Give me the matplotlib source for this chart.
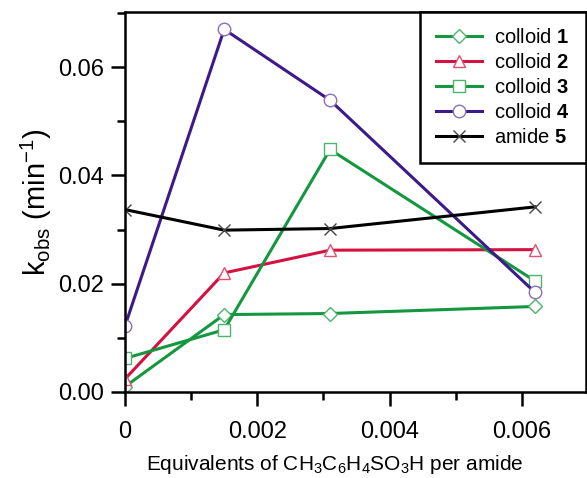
import matplotlib
matplotlib.use("Agg")
import matplotlib.pyplot as plt
from matplotlib.ticker import MultipleLocator

plt.rcParams['font.family'] = ['Liberation Sans', 'DejaVu Sans']
plt.rcParams['mathtext.fontset'] = 'custom'
plt.rcParams['mathtext.rm'] = 'Liberation Sans'
plt.rcParams['mathtext.it'] = 'Liberation Sans:italic'
plt.rcParams['mathtext.bf'] = 'Liberation Sans:bold'

# данные
equiv = [0, 0.0015, 0.0031, 0.0062]
colloid1 = [0.0010, 0.0143, 0.0145, 0.0158]
colloid2 = [0.0024, 0.0220, 0.0262, 0.0263]
colloid3 = [0.0062, 0.0115, 0.0448, 0.0205]
colloid4 = [0.0122, 0.0670, 0.0539, 0.0184]
amide5 = [0.0337, 0.0299, 0.0302, 0.0342]

labels = ['colloid $\\mathbf{1}$', 'colloid $\\mathbf{2}$', 'colloid $\\mathbf{3}$',
          'colloid $\\mathbf{4}$', 'amide $\\mathbf{5}$']

green = '#14973f'
red = '#d41141'
purple = '#3d1a8a'

fig = plt.figure(figsize=(5.87, 4.78), dpi=100)
ax = fig.add_axes([125/587, 86/478, 461/587, 380/478])

ax.plot(equiv, colloid1, color=green, lw=2.2, marker='D', ms=7, mfc='white', mec='#4fb36f', mew=1, label=labels[0])
ax.plot(equiv, colloid2, color=red, lw=2.2, marker='^', ms=8, mfc='white', mec='#e05070', mew=1, label=labels[1])
ax.plot(equiv, colloid3, color=green, lw=2.2, marker='s', ms=8, mfc='white', mec='#4fb36f', mew=1, label=labels[2])
ax.plot(equiv, colloid4, color=purple, lw=2.2, marker='o', ms=9, mfc='white', mec='#8a70b8', mew=1, label=labels[3])
ax.plot(equiv, amide5, color='black', lw=2.2, marker='x', ms=8, mec='#444444', mew=1, label=labels[4])

ax.set_xlim(0, 0.00697)
ax.set_ylim(0, 0.0702)
ax.set_xticks([0, 0.002, 0.004, 0.006])
ax.set_xticklabels(['0', '0.002', '0.004', '0.006'])
ax.set_yticks([0, 0.02, 0.04, 0.06])
ax.set_yticklabels(['0.00', '0.02', '0.04', '0.06'])
ax.xaxis.set_minor_locator(MultipleLocator(0.001))
ax.yaxis.set_minor_locator(MultipleLocator(0.01))
ax.tick_params(which='major', direction='out', length=10, width=1.8, labelsize=17, pad=5)
ax.tick_params(which='minor', direction='out', length=6, width=1.8)
ax.tick_params(axis='x', pad=11)
for s in ax.spines.values():
    s.set_linewidth(1.8)

ax.set_xlabel('Equivalents of CH$_3$C$_6$H$_4$SO$_3$H per amide', fontsize=15)
ax.xaxis.set_label_coords(0.456, -0.16)
ax.set_ylabel('k$_{\\mathrm{obs}}$ (min$^{-1}$)', fontsize=21, labelpad=3)

leg = ax.legend(loc='upper right', borderaxespad=0, fontsize=14.5, handlelength=2.3,
                labelspacing=0.3, fancybox=False, edgecolor='black', framealpha=1,
                borderpad=0.8, handletextpad=0.6)
leg.get_frame().set_linewidth(1.8)

plt.savefig('out.png', dpi=100)
